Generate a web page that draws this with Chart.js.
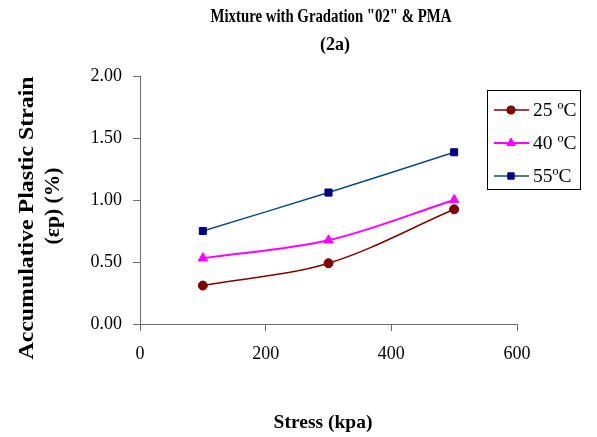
<!DOCTYPE html>
<html>
<head>
<meta charset="utf-8">
<script src="https://cdn.jsdelivr.net/npm/chart.js@4.4.1/dist/chart.umd.min.js"></script>
<style>
html,body{margin:0;padding:0;background:#fff;}
#wrap{position:relative;width:597px;height:437px;}
</style>
</head>
<body>
<div id="wrap"><canvas id="c" width="597" height="437"></canvas></div>
<script>
const stress = [100, 300, 500];
const strain25 = [0.31, 0.49, 0.925];
const strain40 = [0.53, 0.675, 1.00];
const strain55 = [0.75, 1.06, 1.385];
const seriesLabels = ['25 ºC', '40 ºC', '55ºC'];
const xTicks = [0, 200, 400, 600];
const yTicks = [0, 0.5, 1.0, 1.5, 2.0];
const titleLines = ['Mixture with Gradation "02" & PMA', '(2a)'];
const yTitleLines = ['Accumulative Plastic Strain', '(εp) (%)'];
const xTitle = 'Stress (kpa)';

const toPts = (ys) => stress.map((x, i) => ({x: x, y: ys[i]}));
const SERIF = '"Liberation Serif", "Times New Roman", serif';

const datasets = [
  {label: seriesLabels[0], data: toPts(strain25), borderColor: '#800000', backgroundColor: '#800000',
   pointBorderColor: '#800000', pointStyle: 'circle', pointRadius: 4.5, borderWidth: 1.5},
  {label: seriesLabels[1], data: toPts(strain40), borderColor: '#ff00ff', backgroundColor: '#ff00ff',
   pointBorderColor: '#ff00ff', pointStyle: 'triangle', pointRadius: 5.5, borderWidth: 2},
  {label: seriesLabels[2], data: toPts(strain55), borderColor: '#0d4a82', backgroundColor: '#000080',
   pointBorderColor: '#000080', pointStyle: 'rect', pointRadius: 5, borderWidth: 1.5}
];
datasets.forEach(d => { d.showLine = true; d.tension = 0.33; d.pointBorderWidth = 1; });

// draw text stretched along its baseline to a target width
function fitText(ctx, text, cx, cy, font, targetWidth) {
  ctx.font = font;
  const w = ctx.measureText(text).width;
  ctx.save();
  ctx.translate(cx, cy);
  ctx.scale(targetWidth / w, 1);
  ctx.textAlign = 'center';
  ctx.fillText(text, 0, 0);
  ctx.restore();
}

new Chart(document.getElementById('c'), {
  type: 'scatter',
  data: {datasets: datasets},
  options: {
    responsive: false,
    animation: false,
    devicePixelRatio: 1,
    layout: {padding: {top: 76, right: 80, bottom: 0, left: 0}},
    plugins: {legend: {display: false}, title: {display: false}, tooltip: {enabled: false}},
    scales: {
      x: {
        type: 'linear', min: 0, max: 600,
        afterBuildTicks: (s) => { s.ticks = xTicks.map(v => ({value: v})); },
        afterFit: (s) => { s.height = 113; },
        grid: {display: true, drawOnChartArea: false, drawTicks: true, tickLength: 7, color: '#6e6e6e'},
        border: {display: true, color: '#6e6e6e', width: 1},
        ticks: {color: '#000', font: {family: SERIF, size: 18}, padding: 12, maxRotation: 0}
      },
      y: {
        type: 'linear', min: 0, max: 2,
        afterBuildTicks: (s) => { s.ticks = yTicks.map(v => ({value: v})); },
        afterFit: (s) => { s.width = 140; },
        grid: {display: true, drawOnChartArea: false, drawTicks: true, tickLength: 7, color: '#6e6e6e'},
        border: {display: true, color: '#6e6e6e', width: 1},
        ticks: {color: '#000', font: {family: SERIF, size: 18}, padding: 11, callback: (v) => Number(v).toFixed(2)}
      }
    }
  },
  plugins: [{
    id: 'textAndLegend',
    afterDraw(chart) {
      const ctx = chart.ctx;
      ctx.save();
      ctx.fillStyle = '#000';
      ctx.textBaseline = 'middle';
      // chart title (condensed bold)
      fitText(ctx, titleLines[0], 331, 17, 'bold 18px ' + SERIF, 241);
      fitText(ctx, titleLines[1], 335, 45, 'bold 18px ' + SERIF, 30);
      // x title
      ctx.textAlign = 'center';
      ctx.font = 'bold 19.5px ' + SERIF;
      ctx.fillText(xTitle, 323, 423);
      // y title
      ctx.save();
      ctx.translate(28, 218);
      ctx.rotate(-Math.PI / 2);
      fitText(ctx, yTitleLines[0], 0, 0, 'bold 20px ' + SERIF, 283);
      ctx.restore();
      ctx.save();
      ctx.translate(54, 206);
      ctx.rotate(-Math.PI / 2);
      fitText(ctx, yTitleLines[1], 0, 0, 'bold 20px ' + SERIF, 77);
      ctx.restore();
      // legend
      ctx.fillStyle = '#fff';
      ctx.fillRect(487.5, 90.5, 93, 99);
      ctx.strokeStyle = '#000';
      ctx.lineWidth = 1;
      ctx.strokeRect(487.5, 90.5, 93, 99);
      const rows = [110, 143, 176];
      chart.data.datasets.forEach((d, i) => {
        const y = rows[i];
        ctx.strokeStyle = d.borderColor;
        ctx.lineWidth = d.borderWidth;
        ctx.beginPath(); ctx.moveTo(494, y); ctx.lineTo(529, y); ctx.stroke();
        ctx.fillStyle = d.backgroundColor;
        ctx.strokeStyle = d.pointBorderColor;
        ctx.lineWidth = 1;
        Chart.helpers.drawPoint(ctx, {pointStyle: d.pointStyle, radius: d.pointRadius * 0.9, borderWidth: 1}, 511, y);
        ctx.fillStyle = '#000';
        ctx.font = '19.5px ' + SERIF;
        ctx.textAlign = 'left';
        ctx.fillText(d.label, 533, y + 1);
      });
      ctx.restore();
    }
  }]
});
</script>
</body>
</html>
